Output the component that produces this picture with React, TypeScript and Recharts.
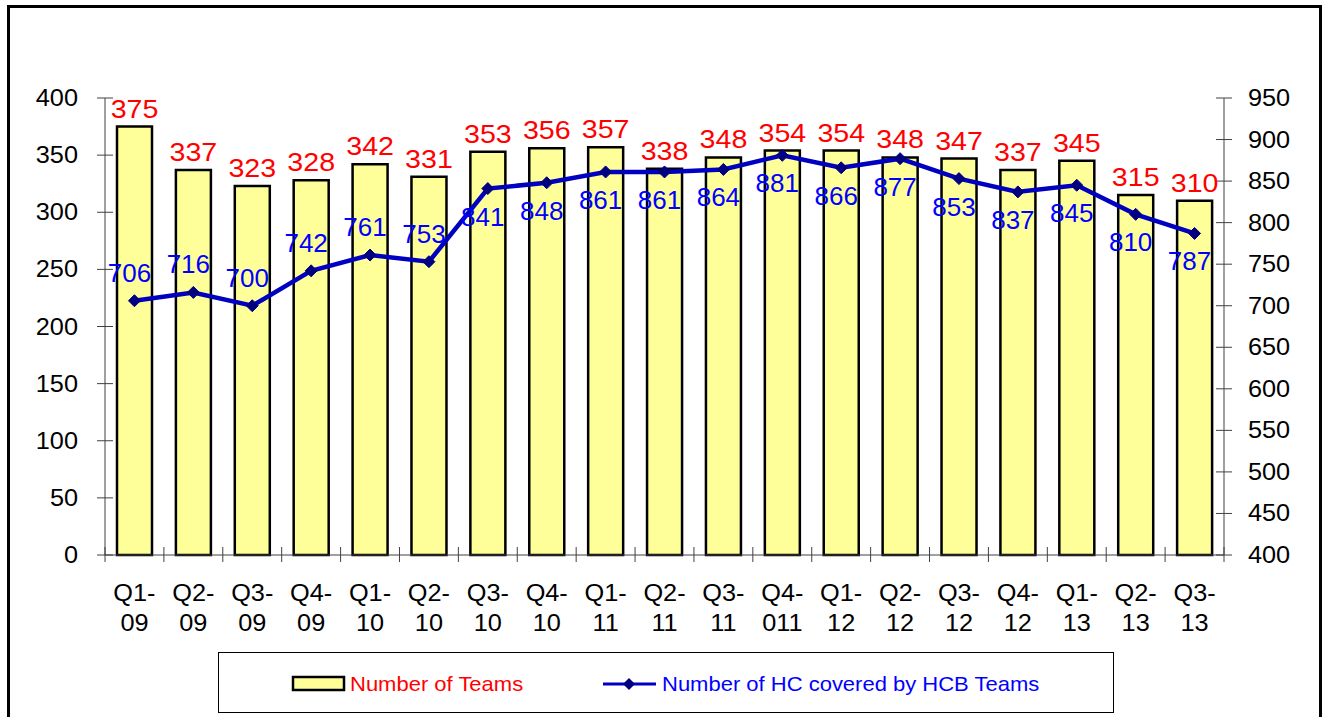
import React from 'react';
import { ComposedChart, Bar, Line, XAxis, YAxis, LabelList } from 'recharts';

const categories = ['Q1-09', 'Q2-09', 'Q3-09', 'Q4-09', 'Q1-10', 'Q2-10', 'Q3-10', 'Q4-10', 'Q1-11', 'Q2-11', 'Q3-11', 'Q4-011', 'Q1-12', 'Q2-12', 'Q3-12', 'Q4-12', 'Q1-13', 'Q2-13', 'Q3-13'];
const teams = [375, 337, 323, 328, 342, 331, 353, 356, 357, 338, 348, 354, 354, 348, 347, 337, 345, 315, 310];
const hcCovered = [706, 716, 700, 742, 761, 753, 841, 848, 861, 861, 864, 881, 866, 877, 853, 837, 845, 810, 787];
const leftTicks = [0, 50, 100, 150, 200, 250, 300, 350, 400];
const rightTicks = [400, 450, 500, 550, 600, 650, 700, 750, 800, 850, 900, 950];
const teamsName = 'Number of Teams';
const hcName = 'Number of HC covered by HCB Teams';

const data = categories.map((c, i) => ({ cat: c, teams: teams[i], hc: hcCovered[i] }));

const FONT = '"Liberation Sans", Arial, sans-serif';
const W = 1315;
const H = 712;
const PLOT_LEFT = 98;
const PLOT_RIGHT = 1217;
const BAND = (PLOT_RIGHT - PLOT_LEFT) / categories.length;
const ABOVE_COUNT = 6;
const STRETCH = 1.1;
const AXIS_COLOR = '#404040';
const LINE_COLOR = '#0000C0';
const MARKER_COLOR = '#000080';

const SText = (props: any) => {
  const { x, y, anchor, size, color, children } = props;
  return (
    <text
      transform={`translate(${x},${y}) scale(${STRETCH},1)`}
      x={0}
      y={0}
      textAnchor={anchor}
      fontSize={size}
      fontFamily={FONT}
      fill={color}
    >
      {children}
    </text>
  );
};

const XTick = (props: any) => {
  const { x, y, payload, index } = props;
  const s = String(payload.value);
  const k = s.indexOf('-');
  const a = s.slice(0, k + 1);
  const b = s.slice(k + 1);
  return (
    <g>
      <line x1={x - BAND / 2} x2={x - BAND / 2} y1={y - 8} y2={y + 7} stroke={AXIS_COLOR} strokeWidth={1} />
      {index === categories.length - 1 && (
        <line x1={x + BAND / 2} x2={x + BAND / 2} y1={y - 8} y2={y + 7} stroke={AXIS_COLOR} strokeWidth={1} />
      )}
      <SText x={x} y={y + 46} anchor="middle" size={23} color="#000">{a}</SText>
      <SText x={x} y={y + 76} anchor="middle" size={23} color="#000">{b}</SText>
    </g>
  );
};

const LeftTick = (props: any) => {
  const { x, y, payload } = props;
  return (
    <g>
      <line x1={x - 8} x2={x + 8} y1={y} y2={y} stroke={AXIS_COLOR} strokeWidth={1} />
      <SText x={x - 27} y={y + 8} anchor="end" size={23} color="#000">{payload.value}</SText>
    </g>
  );
};

const RightTick = (props: any) => {
  const { x, y, payload } = props;
  return (
    <g>
      <line x1={x - 8} x2={x + 8} y1={y} y2={y} stroke={AXIS_COLOR} strokeWidth={1} />
      <SText x={x + 24} y={y + 8} anchor="start" size={23} color="#000">{payload.value}</SText>
    </g>
  );
};

const BarLabel = (props: any) => {
  const { x, y, width, value } = props;
  return <SText x={x + width / 2} y={y - 9} anchor="middle" size={26} color="#FF0000">{value}</SText>;
};

const LineLabel = (props: any) => {
  const { x, y, value, index } = props;
  const above = index < ABOVE_COUNT;
  return (
    <text x={x - 5} y={above ? y - 19 : y + 37} textAnchor="middle" fontSize={26} fontFamily={FONT} fill="#0000FF">{value}</text>
  );
};

const Diamond = (props: any) => {
  const { cx, cy, index } = props;
  if (cx == null || cy == null) return <g key={index} />;
  const r = 6;
  return (
    <polygon key={index} points={`${cx},${cy - r} ${cx + r},${cy} ${cx},${cy + r} ${cx - r},${cy}`} fill={MARKER_COLOR} stroke={MARKER_COLOR} strokeWidth={1} />
  );
};

export default function App() {
  return (
    <div style={{ position: 'fixed', left: 7, top: 5, width: W, height: H, overflow: 'hidden', background: '#fff' }}>
      <div style={{ position: 'absolute', left: 0, top: 0, width: W, height: H + 30, border: '3px solid #000', boxSizing: 'border-box' }} />
      <div style={{ position: 'absolute', left: 0, top: 0 }}>
        <ComposedChart width={W} height={H} data={data} margin={{ top: 93, right: 0, left: 0, bottom: 62 }} barCategoryGap={0}>
          <XAxis
            dataKey="cat"
            interval={0}
            height={100}
            tickSize={0}
            tickMargin={0}
            tickLine={false}
            axisLine={{ stroke: AXIS_COLOR, strokeWidth: 1 }}
            tick={<XTick />}
          />
          <YAxis
            yAxisId="left"
            orientation="left"
            width={98}
            domain={[0, 400]}
            ticks={leftTicks}
            tickSize={0}
            tickMargin={0}
            tickLine={false}
            axisLine={{ stroke: AXIS_COLOR, strokeWidth: 1 }}
            tick={<LeftTick />}
            interval={0}
          />
          <YAxis
            yAxisId="right"
            orientation="right"
            width={98}
            domain={[400, 950]}
            ticks={rightTicks}
            tickSize={0}
            tickMargin={0}
            tickLine={false}
            axisLine={{ stroke: AXIS_COLOR, strokeWidth: 1 }}
            tick={<RightTick />}
            interval={0}
          />
          <Bar yAxisId="left" dataKey="teams" name={teamsName} barSize={35} fill="#FFFF99" stroke="#000" strokeWidth={2.5} isAnimationActive={false}>
            <LabelList dataKey="teams" content={<BarLabel />} />
          </Bar>
          <Line
            yAxisId="right"
            dataKey="hc"
            name={hcName}
            type="linear"
            stroke={LINE_COLOR}
            strokeWidth={4.5}
            dot={<Diamond />}
            activeDot={false}
            isAnimationActive={false}
          >
            <LabelList dataKey="hc" content={<LineLabel />} />
          </Line>
        </ComposedChart>
      </div>
      <div style={{ position: 'absolute', left: 211, top: 647, width: 896, height: 61, border: '1px solid #000', boxSizing: 'border-box', background: '#fff' }}>
        <svg width={896} height={61} style={{ position: 'absolute', left: 0, top: 0 }}>
          <rect x={74} y={24} width={51} height={13} fill="#FFFF99" stroke="#000" strokeWidth={2.5} />
          <SText x={131} y={38} anchor="start" size={20} color="#FF0000">{teamsName}</SText>
          <line x1={384} x2={437} y1={31} y2={31} stroke={LINE_COLOR} strokeWidth={3} />
          <polygon points="410,25 416,31 410,37 404,31" fill={MARKER_COLOR} />
          <SText x={443} y={38} anchor="start" size={20} color="#0000FF">{hcName}</SText>
        </svg>
      </div>
    </div>
  );
}
